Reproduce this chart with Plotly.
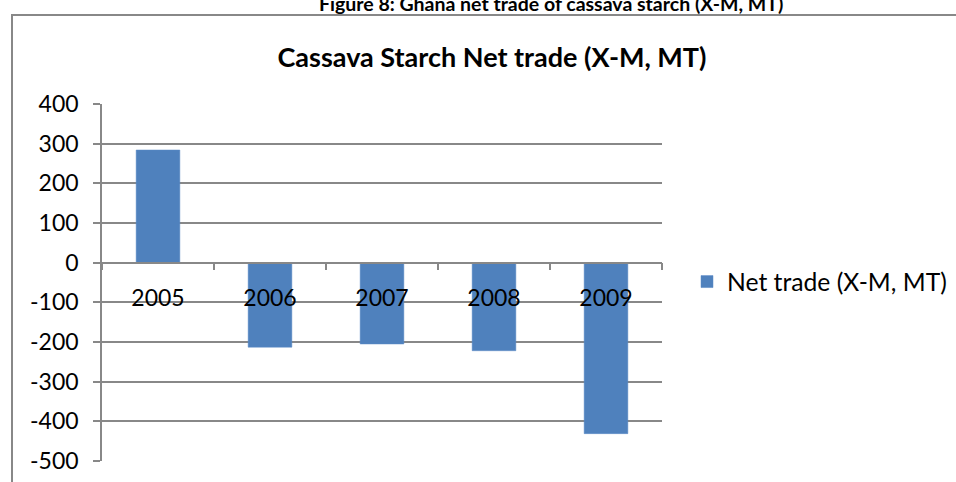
import plotly.graph_objects as go

years = ["2005", "2006", "2007", "2008", "2009"]
net_trade = [284, -213, -205, -222, -431]
y_ticks = [400, 300, 200, 100, 0, -100, -200, -300, -400, -500]
series_name = "Net trade (X-M, MT)"
chart_title = "Cassava Starch Net trade (X-M, MT)"
figure_caption = "Figure 8: Ghana net trade of cassava starch (X-M, MT)"

W, H = 956, 482
L, R_px, T, B_px = 102, 662, 104, 461
ymin, ymax = -500, 400
ph = B_px - T
pw = R_px - L

FONT = "Lato"
GRID = "#888888"

fig = go.Figure()
fig.add_trace(go.Bar(
    x=years, y=net_trade, name=series_name,
    marker=dict(color="#4F81BD", line=dict(color="#5a8ac6", width=0.5)),
    showlegend=True,
))

zero_frac = (0 - ymin) / (ymax - ymin)

fig.update_layout(
    width=W, height=H,
    margin=dict(l=L, r=W - R_px, t=T, b=H - B_px, pad=0, autoexpand=False),
    paper_bgcolor="white", plot_bgcolor="white",
    font=dict(family=FONT, size=23, color="black"),
    bargap=0.61,
    showlegend=True,
    legend=dict(x=(687 - L) / pw, y=1 - (282 - T) / ph, xanchor="left", yanchor="middle",
                font=dict(size=24.7, family=FONT), bgcolor="rgba(0,0,0,0)",
                itemwidth=30),
    title=dict(text="<b>" + chart_title + "</b>", x=492 / W, xref="container",
               xanchor="center", y=1 - 58 / H, yref="container", yanchor="middle",
               font=dict(size=27, family=FONT, color="black")),
    xaxis=dict(
        type="category", anchor="free", position=zero_frac, automargin=False,
        showline=True, linecolor=GRID, linewidth=1.5,
        ticks="outside", ticklen=7, tickcolor=GRID, tickwidth=1.5,
        tickson="boundaries", showgrid=False,
        ticklabelstandoff=15,
        tickfont=dict(size=23, family=FONT, color="black"),
        range=[-0.5, 4.5], fixedrange=True,
    ),
    yaxis=dict(
        range=[ymin, ymax], tickvals=y_ticks, ticktext=[str(v) for v in y_ticks],
        automargin=False,
        showline=True, linecolor=GRID, linewidth=1.5,
        ticks="outside", ticklen=7, tickcolor=GRID, tickwidth=1.5,
        showgrid=True, gridcolor=GRID, gridwidth=1.5,
        zeroline=False,
        ticklabelstandoff=10,
        tickfont=dict(size=23, family=FONT, color="black"),
        fixedrange=True,
    ),
)

# outer chart border (extends beyond the visible page on the right and bottom)
fig.add_shape(type="rect", xref="paper", yref="paper",
              x0=(12 - L) / pw, x1=(W + 20 - L) / pw,
              y0=1 - (H + 20 - T) / ph, y1=1 + (T - 15) / ph,
              line=dict(color=GRID, width=2), fillcolor="rgba(0,0,0,0)", layer="below")

# document caption, partly cut off at the top
fig.add_annotation(text="<b>" + figure_caption + "</b>", xref="paper", yref="paper",
                   x=(551 - L) / pw, y=1 + (T - 17) / ph, xanchor="center", yanchor="bottom",
                   showarrow=False, font=dict(size=19.5, family=FONT, color="black"))

fig.write_html("out.html", config={"displayModeBar": False},
               post_script="document.body.style.margin='0';document.body.style.overflow='hidden';")
